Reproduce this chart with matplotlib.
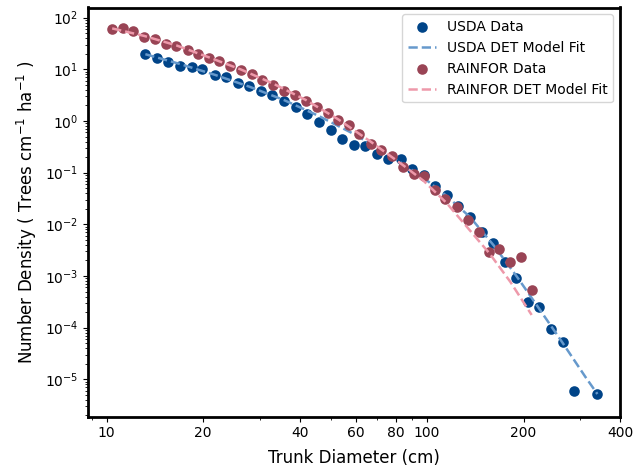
import matplotlib
matplotlib.use("Agg")
import matplotlib.pyplot as plt
from matplotlib.ticker import FixedLocator, FixedFormatter, NullFormatter

usda_d = [13.2, 14.3, 15.5, 16.9, 18.4, 19.9, 21.8, 23.6, 25.7, 27.9, 30.4, 32.9, 35.7, 39.0, 42.3, 46.0, 50.0, 54.4, 59.1, 64.1, 69.6, 75.6, 82.6, 89.9, 97.6, 106.0, 115.0, 125.0, 136.0, 148.0, 161.0, 175.0, 190.0, 207.0, 224.0, 244.0, 265.0, 288.0, 340.0]
usda_n = [19.6, 16.8, 14.0, 11.4, 11.0, 10.1, 7.88, 6.99, 5.44, 4.68, 3.86, 3.19, 2.47, 1.89, 1.34, 0.957, 0.655, 0.445, 0.336, 0.328, 0.228, 0.186, 0.186, 0.119, 0.0882, 0.056, 0.037, 0.0223, 0.0137, 0.0072, 0.0043, 0.00184, 0.000903, 0.000307, 0.000251, 9.3e-05, 5.28e-05, 6.02e-06, 5.15e-06]

usda_fit_d = [13.2, 16.9, 21.8, 28.0, 35.7, 45.9, 59.0, 75.4, 89.5, 97.6, 115.0, 136.0, 161.0, 190.0, 224.0, 265.0, 312.0, 340.0]
usda_fit_n = [19.6, 12.7, 7.78, 4.56, 2.55, 1.25, 0.561, 0.23, 0.113, 0.0789, 0.0354, 0.0139, 0.00398, 0.001, 0.00023, 5.05e-05, 1.11e-05, 5.2e-06]

rain_d = [10.4, 11.2, 12.1, 13.1, 14.1, 15.3, 16.5, 17.9, 19.3, 20.8, 22.4, 24.3, 26.2, 28.4, 30.6, 33.1, 35.8, 38.7, 41.8, 45.3, 48.9, 52.7, 57.0, 61.5, 66.6, 72.0, 77.7, 84.1, 90.7, 97.7, 106.0, 114.0, 124.0, 134.0, 145.0, 156.0, 168.0, 182.0, 197.0, 212.0]
rain_n = [59.6, 62.3, 55.8, 41.4, 39.0, 30.7, 28.3, 23.9, 19.4, 16.2, 14.2, 11.8, 9.72, 8.13, 6.28, 5.05, 3.86, 3.12, 2.47, 1.85, 1.44, 1.05, 0.837, 0.556, 0.359, 0.269, 0.21, 0.126, 0.0943, 0.0843, 0.047, 0.0309, 0.022, 0.0119, 0.00711, 0.00288, 0.00333, 0.00183, 0.0023, 0.000531]

rain_fit_d = [10.4, 13.1, 16.5, 20.7, 26.2, 33.0, 41.8, 52.6, 66.2, 83.9, 97.6, 115.0, 134.0, 157.0, 182.0, 212.0]
rain_fit_n = [61.8, 44.2, 29.0, 17.3, 9.94, 5.32, 2.55, 1.09, 0.41, 0.141, 0.069, 0.0259, 0.00849, 0.00267, 0.000765, 0.000176]

xticks = [10, 20, 40, 60, 80, 100, 200, 400]
xticklabels = ["10", "20", "40", "60", "80", "100", "200", "400"]

dark_blue = "#004488"
light_blue = "#6699CC"
dark_red = "#994455"
light_red = "#EE99AA"

fig = plt.figure(figsize=(6.34, 4.70), dpi=100)
ax = fig.add_axes([88/634, 1-416.7/470, (620-88)/634, (416.7-7.5)/470])

ax.scatter(usda_d, usda_n, s=58, color=dark_blue, label="USDA Data", zorder=2, linewidths=0)
ax.plot(usda_fit_d, usda_fit_n, "--", color=light_blue, lw=1.8, label="USDA DET Model Fit", zorder=3)
ax.scatter(rain_d, rain_n, s=58, color=dark_red, label="RAINFOR Data", zorder=4, linewidths=0)
ax.plot(rain_fit_d, rain_fit_n, "--", color=light_red, lw=1.8, label="RAINFOR DET Model Fit", zorder=5)

ax.set_xscale("log")
ax.set_yscale("log")
ax.set_xlim(8.74, 400)
ax.set_ylim(1.89e-6, 157)

ax.xaxis.set_major_locator(FixedLocator(xticks))
ax.xaxis.set_major_formatter(FixedFormatter(xticklabels))
ax.xaxis.set_minor_formatter(NullFormatter())

for s in ax.spines.values():
    s.set_linewidth(2)

ax.tick_params(labelsize=10)
ax.set_xlabel("Trunk Diameter (cm)", fontsize=12, labelpad=6)
ax.set_ylabel("Number Density ( Trees cm$^{-1}$ ha$^{-1}$ )", fontsize=12)

ax.legend(loc="upper right", fontsize=10, framealpha=0.8)

fig.savefig("out.png", dpi=100)
